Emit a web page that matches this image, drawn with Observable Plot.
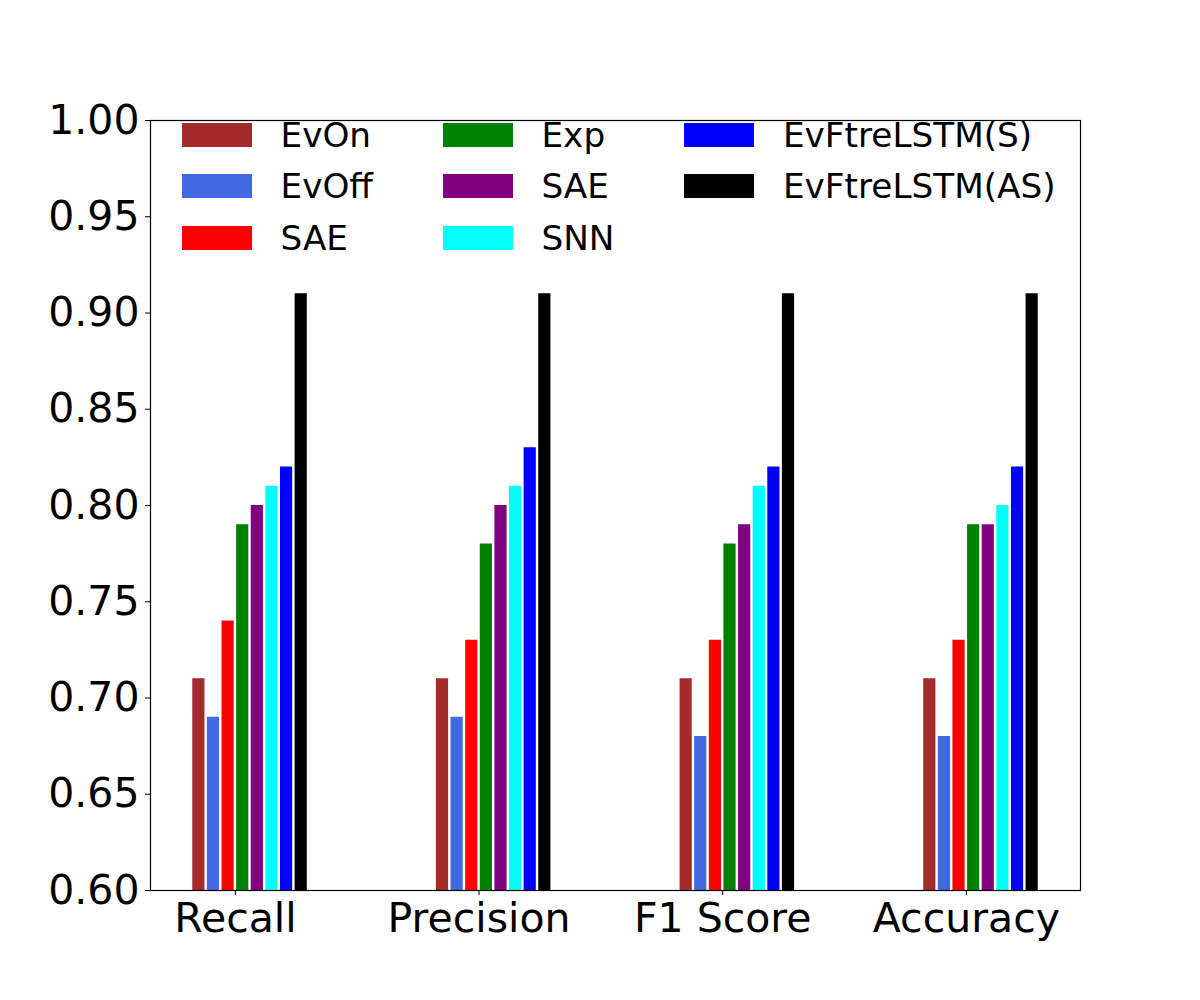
<!DOCTYPE html>
<html>
<head>
<meta charset="utf-8">
<script src="https://cdn.jsdelivr.net/npm/d3@7"></script>
<script src="https://cdn.jsdelivr.net/npm/@observablehq/plot@0.6"></script>
<style>
  body { margin: 0; background: #fff; font-family: "DejaVu Sans", sans-serif; }
  #wrap { position: relative; width: 1200px; height: 1000px; }
  #legend { position: absolute; left: 182px; top: 109px; display: flex; gap: 70px; }
  .col { display: flex; flex-direction: column; }
  .item { display: flex; align-items: center; height: 51.5px; }
  .sw { width: 70px; height: 24px; margin-right: 28.5px; }
  .lab { font-size: 34.25px; line-height: 1; color: #000; white-space: nowrap; }
</style>
</head>
<body>
<div id="wrap"><div id="chart"></div><div id="legend"></div></div>
<script>
const groups = ["Recall", "Precision", "F1 Score", "Accuracy"];
const series = ["EvOn", "EvOff", "SAE", "Exp", "SAE", "SNN", "EvFtreLSTM(S)", "EvFtreLSTM(AS)"];
const colors = ["#a52a2a", "#4169e1", "#ff0000", "#008000", "#800080", "#00ffff", "#0000ff", "#000000"];
const recall    = [0.71, 0.69, 0.74, 0.79, 0.80, 0.81, 0.82, 0.91];
const precision = [0.71, 0.69, 0.73, 0.78, 0.80, 0.81, 0.83, 0.91];
const f1score   = [0.71, 0.68, 0.73, 0.78, 0.79, 0.81, 0.82, 0.91];
const accuracy  = [0.71, 0.68, 0.73, 0.79, 0.79, 0.80, 0.82, 0.91];
const yTicks = [0.60, 0.65, 0.70, 0.75, 0.80, 0.85, 0.90, 0.95, 1.00];
const yMin = 0.60, yMax = 1.00;
const barStep = 0.06, barWidth = 0.05, barOffset = 2.5;

const valuesByGroup = [recall, precision, f1score, accuracy];
const data = [];
valuesByGroup.forEach((vals, g) => {
  vals.forEach((v, i) => {
    const c = g + (i - barOffset) * barStep;
    data.push({g, i, value: v, x1: c - barWidth / 2, x2: c + barWidth / 2});
  });
});
const lo = d3.min(data, d => d.x1), hi = d3.max(data, d => d.x2);
const pad = (hi - lo) * 0.05;

const chart = Plot.plot({
  width: 1200,
  height: 1000,
  marginLeft: 150,
  marginRight: 120,
  marginTop: 120,
  marginBottom: 110,
  style: {fontFamily: "DejaVu Sans", fontSize: "41px", color: "#000", background: "#fff"},
  x: {type: "linear", domain: [lo - pad, hi + pad]},
  y: {domain: [yMin, yMax]},
  marks: [
    Plot.rect(data, {x1: "x1", x2: "x2", y1: () => yMin, y2: "value", fill: d => colors[d.i], clip: true}),
    Plot.axisY({ticks: yTicks, tickFormat: d3.format(".2f"), tickSize: 5, tickPadding: 6, fontSize: 41, label: null}),
    Plot.axisX({ticks: d3.range(groups.length), tickFormat: i => groups[i], tickSize: 5, tickPadding: 7, fontSize: 41, label: null}),
    Plot.frame({stroke: "#000", strokeWidth: 1.2})
  ]
});
document.getElementById("chart").appendChild(chart);

const legend = document.getElementById("legend");
const perCol = 3;
for (let c = 0; c < Math.ceil(series.length / perCol); c++) {
  const col = document.createElement("div");
  col.className = "col";
  for (let r = 0; r < perCol; r++) {
    const k = c * perCol + r;
    if (k >= series.length) break;
    const item = document.createElement("div");
    item.className = "item";
    const sw = document.createElement("div");
    sw.className = "sw";
    sw.style.background = colors[k];
    const lab = document.createElement("span");
    lab.className = "lab";
    lab.textContent = series[k];
    item.appendChild(sw);
    item.appendChild(lab);
    col.appendChild(item);
  }
  legend.appendChild(col);
}
</script>
</body>
</html>
